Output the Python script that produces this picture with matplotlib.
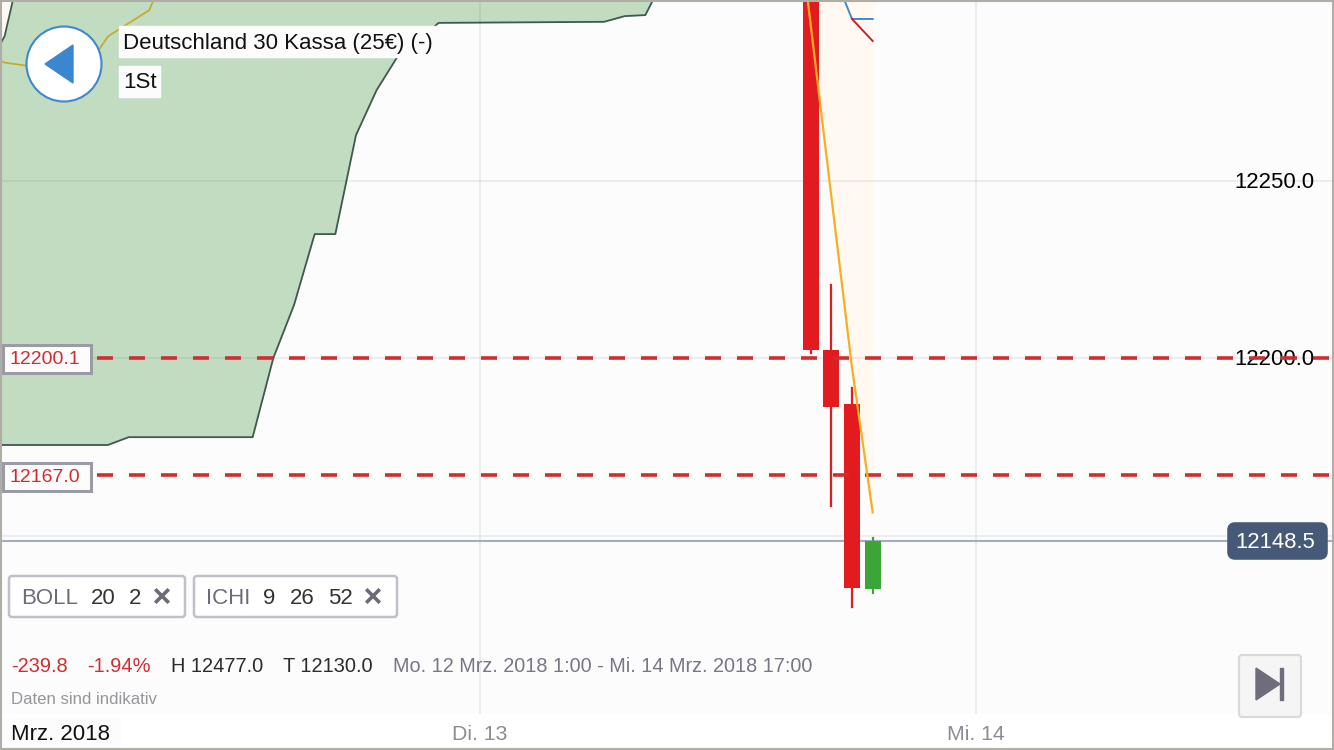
import matplotlib
matplotlib.use('Agg')
import matplotlib.pyplot as plt
from matplotlib.patches import Circle, Polygon, Rectangle, FancyBboxPatch

plt.rcParams['font.family'] = ['Liberation Sans', 'DejaVu Sans']
plt.rcParams['lines.scale_dashes'] = False

# hours counted from Di. 13 0:00
cloud_low_x = [-24, -18, -17, -11, -10, -9, -8, -7, -6, -5, -4, -3, -2, 6, 7, 8, 9]
cloud_low_y = [12175.5, 12175.5, 12177.7, 12177.7, 12200.0, 12214.9, 12234.9, 12234.9,
               12262.8, 12275.5, 12284.8, 12289.6, 12294.4, 12294.7, 12296.3, 12296.6, 12308.0]
cloud_top_x = [-24, -23, -22, -21]
cloud_top_y = [12280.0, 12290.7, 12316.0, 12340.0]

lag_x = [-24, -23, -22, -21, -20, -19, -18, -17, -16, -15]
lag_y = [12286.0, 12283.2, 12282.4, 12282.0, 12282.0, 12282.0, 12290.6, 12294.3, 12298.0, 12312.0]

boll_low_x = [15, 16, 17, 18, 19]
boll_low_y = [12343.0, 12293.9, 12245.5, 12197.3, 12156.5]
mid_x = [17, 18, 19]
mid_y = [12309.9, 12295.5, 12295.5]
red_x = [18, 19]
red_y = [12295.5, 12289.3]

candle_x = [16, 17, 18, 19]
candle_open = [12320.0, 12202.3, 12187.0, 12134.9]
candle_close = [12202.3, 12186.2, 12135.2, 12148.5]
candle_high = [12320.0, 12220.6, 12191.5, 12149.3]
candle_low = [12201.4, 12158.3, 12129.9, 12133.8]

level_values = [12200.1, 12167.0]
level_labels = ['12200.1', '12167.0']
last_price = 12148.5
price_ticks = [12250, 12200, 12150]
day_ticks = [0, 24]
day_labels = ['Di. 13', 'Mi. 14']

RED = '#e21b1f'
GREEN = '#3ba53a'
DASH = '#d12c30'

fig = plt.figure(figsize=(13.34, 7.5), dpi=100, facecolor='white')

# chart in data coords, matches the pixel layout of the screenshot
ax = fig.add_axes([0, 0, 1, 1])
ax.set_xlim(-480 / 20.667, (1334 - 480) / 20.667)
ax.set_ylim(12250 - (750 - 180.5) / 3.55, 12250 + 180.5 / 3.55)
ax.set_axis_off()
ax.add_patch(Rectangle((0, 0), 1, 1, transform=ax.transAxes, color='#fcfcfc', zorder=0))

# ichimoku cloud
top = 12345
ax.fill_between(cloud_low_x, cloud_low_y, top, color='#c1dcc0', lw=0, zorder=1)
ax.fill_between(cloud_top_x, cloud_top_y, top, color='#fcf9f5', lw=0, zorder=1.1)
ax.plot(cloud_low_x, cloud_low_y, color='#3f5a4c', lw=1.3, zorder=2)
ax.plot(cloud_top_x, cloud_top_y, color='#3f5a4c', lw=1.3, zorder=2)
ax.plot(lag_x, lag_y, color='#c9a826', lw=1.2, zorder=2)

# bollinger
ax.fill_between(boll_low_x, boll_low_y, top, color='#fff9f1', lw=0, zorder=1)

# grid
for p in price_ticks:
    ax.axhline(p, color='black', alpha=0.06, lw=1.4, zorder=3)
for d in day_ticks:
    ax.plot([d, d], [12250 - (714 - 180.5) / 3.55, top], color='black', alpha=0.06, lw=1.4, zorder=3)

ax.axhline(last_price, color='#a3adbd', lw=1.5, zorder=4)

# candles
for i in range(len(candle_x)):
    c = GREEN if candle_close[i] > candle_open[i] else RED
    ax.plot([candle_x[i], candle_x[i]], [candle_low[i], candle_high[i]], color=c, lw=1.6, zorder=5)
    y0 = min(candle_open[i], candle_close[i])
    h = abs(candle_close[i] - candle_open[i])
    ax.add_patch(Rectangle((candle_x[i] - 0.39, y0), 0.78, h, facecolor=c, edgecolor='none', zorder=5))

# levels
x_start = (97 - 480) / 20.667
x_end = (1334 - 480) / 20.667
for v in level_values:
    ax.plot([x_start, x_end], [v, v], color=DASH, lw=2.6, ls=(0, (11.52, 11.52)), zorder=6)

ax.plot(boll_low_x, boll_low_y, color='#f7ae24', lw=1.6, zorder=7)
ax.plot(mid_x, mid_y, color='#3e88d0', lw=1.4, zorder=7)
ax.plot(red_x, red_y, color='#cc2027', lw=1.4, zorder=7)

for p, lab in zip([12250, 12200], ['12250.0', '12200.0']):
    ax.text(1314 / 20.667 - 480 / 20.667, p - 0.5, lab, ha='right', va='center', fontsize=15.9, color='black', zorder=5.5)

# overlay in pixels for the app controls
ui = fig.add_axes([0, 0, 1, 1], facecolor='none')
ui.set_xlim(0, 1334)
ui.set_ylim(750, 0)
ui.set_axis_off()

ui.add_patch(Rectangle((0, 714), 1334, 36, color='white', zorder=1))
ui.add_patch(Rectangle((0, 718), 120, 32, color='#fcfcfc', zorder=1))

# back button
ui.add_patch(Circle((64, 64), 37.5, facecolor='white', edgecolor='#3e88d0', lw=1.5, zorder=2))
ui.add_patch(Polygon([(45, 64), (73, 45), (73, 83)], color='#3a87d0', zorder=3))

# title labels
ui.add_patch(Rectangle((119, 26), 318, 31, color='#fcfcfc', zorder=2))
ui.add_patch(Rectangle((119, 66), 41, 31, color='#fcfcfc', zorder=2))
ui.text(123, 43, 'Deutschland 30 Kassa (25€) (-)', va='center', fontsize=16, color='#111111', zorder=3)
ui.text(123, 83, '1St', va='center', fontsize=16, color='#111111', zorder=3)

# level labels
for yy, lab in zip([358.5, 476.5], level_labels):
    ui.add_patch(Rectangle((3, yy - 14), 88, 28, facecolor='#fcfcfc', edgecolor='#9b9ba8', lw=2.2, zorder=2))
    ui.text(45, yy + 1.5, lab, ha='center', va='center', fontsize=14, color='#d12c30', zorder=3)

# last price tag
ui.add_patch(FancyBboxPatch((1230, 525), 95, 32, boxstyle='round,pad=0,rounding_size=5',
                            mutation_aspect=1, facecolor='#465a78', edgecolor='#465a78', lw=4, zorder=3))
ui.text(1275, 543, '12148.5', ha='center', va='center', fontsize=15.9, color='white', zorder=4)

# indicator chips
for x0, x1 in [(9, 185), (194, 397)]:
    ui.add_patch(FancyBboxPatch((x0, 576), x1 - x0, 41, boxstyle='round,pad=0,rounding_size=3',
                                facecolor='white', edgecolor='#c0c1c8', lw=1.8, zorder=2))
ui.text(21, 598, 'BOLL', va='center', fontsize=16, color='#6c6c78', zorder=3)
ui.text(91, 598, '20', va='center', fontsize=16, color='#333333', zorder=3)
ui.text(129, 598, '2', va='center', fontsize=16, color='#333333', zorder=3)
ui.text(206, 598, 'ICHI', va='center', fontsize=16, color='#6c6c78', zorder=3)
ui.text(263, 598, '9', va='center', fontsize=16, color='#333333', zorder=3)
ui.text(290, 598, '26', va='center', fontsize=16, color='#333333', zorder=3)
ui.text(328, 598, '52', va='center', fontsize=16, color='#333333', zorder=3)
for cx in [162, 373]:
    ui.plot([cx - 5.5, cx + 5.5], [590.5, 601.5], color='#6c6c78', lw=2.6, zorder=3)
    ui.plot([cx - 5.5, cx + 5.5], [601.5, 590.5], color='#6c6c78', lw=2.6, zorder=3)

# stats row
ui.text(11, 666, '-239.8', va='center', fontsize=14.4, color='#d12c30', zorder=3)
ui.text(87, 666, '-1.94%', va='center', fontsize=14.4, color='#d12c30', zorder=3)
ui.text(171, 666, 'H 12477.0', va='center', fontsize=14.4, color='#2b2b2b', zorder=3)
ui.text(283, 666, 'T 12130.0', va='center', fontsize=14.4, color='#2b2b2b', zorder=3)
ui.text(393, 666, 'Mo. 12 Mrz. 2018 1:00 - Mi. 14 Mrz. 2018 17:00', va='center', fontsize=14.3, color='#777785', zorder=3)
ui.text(11, 700, 'Daten sind indikativ', va='center', fontsize=12.1, color='#95959b', zorder=3)

# time axis labels
ui.text(11, 734, 'Mrz. 2018', va='center', fontsize=16, color='#111111', zorder=3)
for px, lab in zip([480, 976], day_labels):
    ui.text(px, 734, lab, ha='center', va='center', fontsize=15.3, color='#8c8c94', zorder=3)

# jump to end button
ui.add_patch(FancyBboxPatch((1239, 655), 62, 62, boxstyle='round,pad=0,rounding_size=3',
                            facecolor='#f5f5f5', edgecolor='#d9d9df', lw=1.6, zorder=2))
ui.add_patch(Polygon([(1256, 668), (1256, 700), (1280, 684)], color='#6f6c7c', zorder=3))
ui.add_patch(Rectangle((1280, 668), 2.6, 32, color='#6f6c7c', zorder=3))

# screenshot frame
ui.add_patch(Rectangle((1, 1), 1332, 748, fill=False, edgecolor='#aeaea6', lw=1.5, zorder=10))

fig.savefig('out.png', dpi=100)
